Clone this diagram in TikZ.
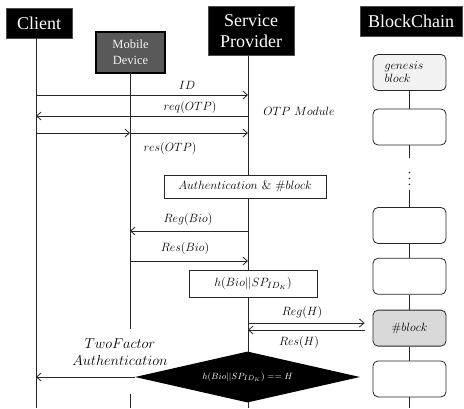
\documentclass[tikz,border=0pt]{standalone}
\usepackage{amsmath}
\usepackage{fontspec}
\newfontfamily\hdfont{Liberation Serif}
\usetikzlibrary{arrows.meta,positioning,shapes.geometric}
\definecolor{mobg}{HTML}{595959}
\definecolor{gen}{HTML}{F2F2F2}
\definecolor{blkg}{HTML}{D9D9D9}
\definecolor{ln}{HTML}{262626}
\tikzset{
  >={Straight Barb[length=1.6mm,width=2.8mm]},
  hd/.style={draw=black!70,fill=black,text=white,inner sep=1pt,align=center,font=\hdfont\fontsize{18}{21}\selectfont},
  mb/.style={draw=black,line width=1.2pt,fill=mobg,text=black!5,inner sep=1pt,align=center,font=\hdfont\fontsize{12.5}{16}\selectfont},
  blk/.style={draw=ln,rounded corners=5pt,line width=0.8pt,fill=white,minimum width=73pt,minimum height=36pt,inner sep=1pt,font=\fontsize{12}{13}\selectfont},
  tbox/.style={draw=ln,line width=0.6pt,fill=white,inner sep=1pt,font=\fontsize{12.5}{14}\selectfont},
  lab/.style={inner sep=1pt,font=\fontsize{12.5}{14}\selectfont,align=center},
  msg/.style={draw=ln,line width=0.8pt},
  life/.style={draw=ln,line width=0.8pt},
  dia/.style={diamond,fill=black,text=white,aspect=4.4,inner sep=1pt,minimum width=225pt,minimum height=51pt,font=\fontsize{9.5}{10}\selectfont},
}
\begin{document}
\begin{tikzpicture}[x=1pt,y=-1pt]
\useasboundingbox (0,0) rectangle (464,408);
\node[hd,minimum width=66pt,minimum height=30pt] (cl) at (39,23) {Client};
\node[mb,minimum width=69pt,minimum height=41pt] (mob) at (130.5,52.5) {Mobile\\Device};
\node[hd,minimum width=86pt,minimum height=49pt] (sp) at (251,31) {Service\\Provider};
\node[hd,minimum width=102pt,minimum height=30pt] (bc) at (411,21) {BlockChain};
\coordinate (clt) at (36,38); \coordinate (mot) at (130,73); \coordinate (spt) at (248,56);
\draw[life] (clt) -- (clt |- 0,408);
\draw[life] (mot) -- (mot |- 0,329); \draw[life] (mot |- 0,394) -- (mot |- 0,408);
\draw[life] (spt) -- (spt |- 0,408);
\node[blk,fill=gen,align=left,text width=50pt,inner xsep=11.5pt] (b1) at (409.5,72.5) {$genesis$\\$block$};
\node[blk] (b2) at (409.5,127) {};
\node[inner sep=0pt,minimum width=4pt,minimum height=14pt] (dt) at (409.5,178.5) {};
\foreach \k in {-6,0,6} \fill[ln] (dt.center) ++(0,\k) circle (0.9pt);
\node[blk] (b3) at (409.5,225.5) {};
\node[blk,below=14pt of b3] (b4) {};
\node[blk,fill=blkg,below=15pt of b4] (b5) {$\#block$};
\node[blk,below=14pt of b5] (b6) {};
\draw[life] (b1) -- (b2); \draw[life] (b2) -- ([yshift=13pt]dt.north); \draw[life] ([yshift=-4pt]dt.south) -- (b3);
\draw[life] (b3) -- (b4); \draw[life] (b4) -- (b5); \draw[life] (b5) -- (b6);
\draw[life] (b6) -- (b6.south |- 0,408);
\coordinate (bcin) at ([xshift=-8pt]b5.west);
\draw[msg,->] (clt |- 0,95) -- (spt |- 0,95);
\draw[msg,->] (spt |- 0,116) -- (clt |- 0,116);
\draw[msg,->] (clt |- 0,133) -- (mot |- 0,133); \draw[msg,->] (mot |- 0,133) -- (spt |- 0,133);
\node[lab] (lid) at (187,85) {$ID$};
\node[lab] (lreq) at (190,107) {$req(OTP)$};
\node[lab] (lres) at (170,148) {$res(OTP)$};
\node[lab] (otp) at (299,111) {$OTP\ Module$};
\node[tbox,minimum width=162pt,minimum height=23pt] (auth) at (245,186.5) {$Authentication\ \&\ \#block$};
\draw[msg,->] (spt |- 0,231) -- (mot |- 0,231);
\draw[msg,->] (mot |- 0,261) -- (spt |- 0,261);
\node[lab] (lrgb) at (188,219) {$Reg(Bio)$};
\node[lab] (lrsb) at (185,248) {$Res(Bio)$};
\node[tbox,minimum width=128pt,minimum height=27pt] (hash) at (253,283.5) {$h(Bio||SP_{ID_K})$};
\draw[msg,->] (spt |- 0,323) -- (bcin |- 0,323);
\draw[msg,->] (bcin |- 0,330) -- (spt |- 0,330);
\node[lab] (lrgh) at (302,312) {$Reg(H)$};
\node[lab] (lrsh) at (299,342) {$Res(H)$};
\node[dia] (chk) at (247.5,377) {$h(Bio||SP_{ID_K})==H$};
\draw[msg,->] (chk.west) -- (clt |- chk.west);
\node[lab,font=\fontsize{14}{17}\selectfont] (tfa) at (120,352) {$TwoFactor$\\$Authentication$};
\end{tikzpicture}
\end{document}
